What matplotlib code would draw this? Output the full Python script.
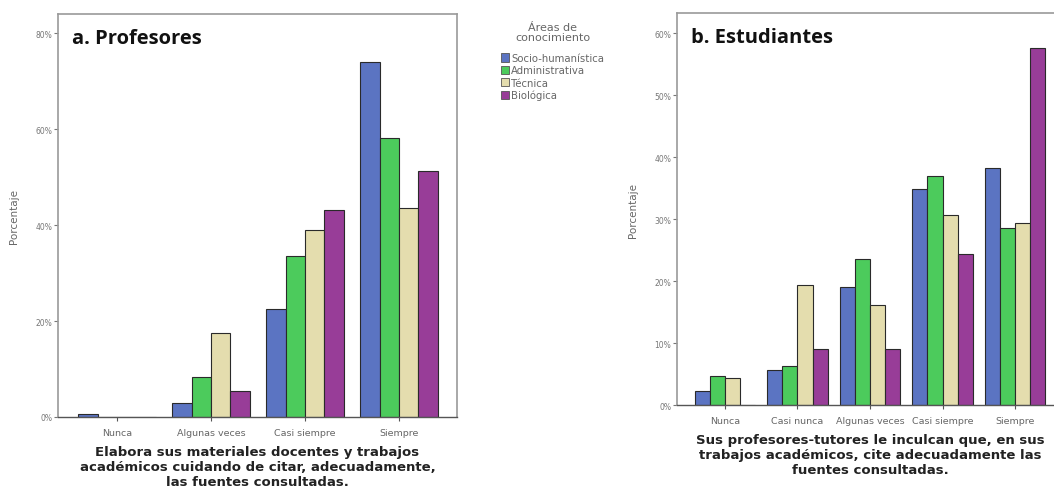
import matplotlib
matplotlib.use("Agg")
import matplotlib.pyplot as plt
import numpy as np
from matplotlib.patches import Patch
from matplotlib.ticker import FuncFormatter

# Areas and colours
areas = ["Socio-humanística", "Administrativa", "Técnica", "Biológica"]
colors = ["#5b74c2", "#4ccb5c", "#e4ddae", "#983d98"]

# a. Profesores
prof_cats = ["Nunca", "Algunas veces", "Casi siempre", "Siempre"]
prof_socio = [0.6, 2.9, 22.4, 74.0]
prof_admin = [0.0, 8.3, 33.6, 58.2]
prof_tec = [0.0, 17.5, 39.0, 43.5]
prof_bio = [0.0, 5.4, 43.1, 51.3]
prof_ticks = [0, 20, 40, 60, 80]

# b. Estudiantes
est_cats = ["Nunca", "Casi nunca", "Algunas veces", "Casi siempre", "Siempre"]
est_socio = [2.3, 5.6, 19.0, 34.8, 38.3]
est_admin = [4.6, 6.3, 23.5, 37.0, 28.5]
est_tec = [4.4, 19.3, 16.2, 30.7, 29.4]
est_bio = [0.0, 9.0, 9.0, 24.3, 57.6]
est_ticks = [0, 10, 20, 30, 40, 50, 60]

W, H = 1054, 489
fig = plt.figure(figsize=(W / 100, H / 100), dpi=100)
fig.patch.set_facecolor("white")

bar_w = 0.207
title_font = dict(family="Open Sans", weight="bold", color="#111111")
xlab_font = dict(family="DejaVu Sans", weight="bold", color="#222222")


def panel(rect, cats, series, ticks, ymax, xlim, title, xlabel, right_spine=True):
    ax = fig.add_axes(rect)
    x = np.arange(len(cats))
    for i, (vals, c) in enumerate(zip(series, colors)):
        ax.bar(x + (i - 1.5) * bar_w, vals, width=bar_w, color=c,
               edgecolor="#2a2a2a", linewidth=0.8, zorder=2)
    ax.set_xlim(*xlim)
    ax.set_ylim(0, ymax)
    ax.set_xticks(x)
    ax.set_xticklabels(cats, fontsize=6.8, color="#666666")
    ax.set_yticks(ticks)
    ax.yaxis.set_major_formatter(FuncFormatter(lambda v, p: f"{v:.0f}%"))
    ax.tick_params(axis="y", labelsize=5.5, labelcolor="#777777",
                   length=3, width=0.8, color="#777777", pad=1)
    ax.tick_params(axis="x", length=3, width=0.8, color="#555555", pad=5)
    for s in ["top", "right", "left"]:
        ax.spines[s].set_color("#9a9a9a")
        ax.spines[s].set_linewidth(1.2)
    ax.spines["right"].set_visible(right_spine)
    ax.spines["bottom"].set_color("#555555")
    ax.spines["bottom"].set_linewidth(1.0)
    ax.set_ylabel("Porcentaje", fontsize=7.5, color="#666666", labelpad=12)
    ax.text(0.035, 0.965, title, transform=ax.transAxes, fontsize=14.5,
            va="top", ha="left", **title_font)
    ax.set_xlabel(xlabel, fontsize=9.5, linespacing=1.2, labelpad=6,
                  **xlab_font)
    return ax


ax1 = panel([58 / W, 1 - 418 / H, 399 / W, 403 / H], prof_cats,
            [prof_socio, prof_admin, prof_tec, prof_bio], prof_ticks,
            403 / 4.8, (-0.628, 3.617), "a. Profesores",
            "Elabora sus materiales docentes y trabajos\n"
            "académicos cuidando de citar, adecuadamente,\n"
            "las fuentes consultadas.")

ax2 = panel([677 / W, 1 - 406 / H, 386 / W, 392 / H], est_cats,
            [est_socio, est_admin, est_tec, est_bio], est_ticks,
            392 / 6.2, (-0.662, 4.662), "b. Estudiantes",
            "Sus profesores-tutores le inculcan que, en sus\n"
            "trabajos académicos, cite adecuadamente las\n"
            "fuentes consultadas.", right_spine=False)

# Legend: title and entries
fig.text(553 / W, 1 - 33 / H, "Áreas de\nconocimiento", ha="center",
         va="center", fontsize=8, color="#666666", linespacing=1.0)
handles = [Patch(facecolor=c, edgecolor="#555555", linewidth=0.6) for c in colors]
leg = fig.legend(handles, areas, loc="upper left",
                 bbox_to_anchor=(494 / W, 1 - 47 / H),
                 frameon=False, fontsize=7.3,
                 handlelength=0.75, handleheight=0.9, handletextpad=0.25,
                 labelspacing=0.22, borderpad=0.2)
for t in leg.get_texts():
    t.set_color("#666666")

fig.savefig("out.png", dpi=100, facecolor="white")
